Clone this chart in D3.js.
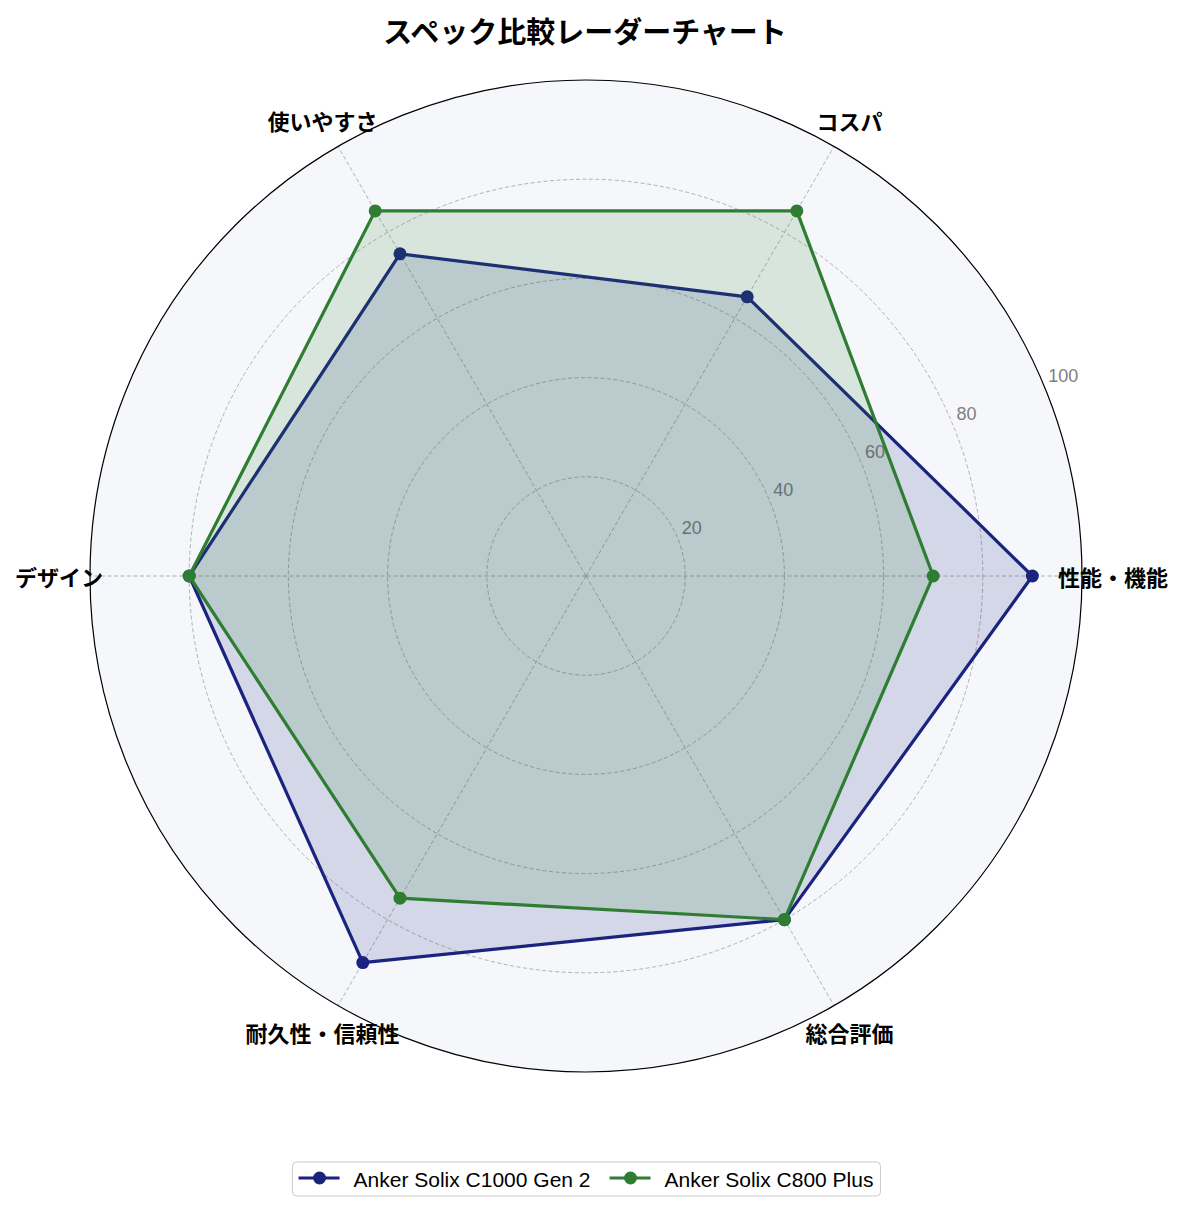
<!DOCTYPE html>
<html>
<head>
<meta charset="utf-8">
<script src="https://cdn.jsdelivr.net/npm/d3@7"></script>
<style>
  body { margin: 0; background: #fff; }
  svg { display: block; font-family: "Noto Sans CJK JP", "Noto Sans", sans-serif; }
</style>
</head>
<body>
<div class="root"></div>
<script>
const categories = ["性能・機能", "コスパ", "使いやすさ", "デザイン", "耐久性・信頼性", "総合評価"];
const c1000Gen2 = [90, 65, 75, 80, 90, 80];
const c800Plus = [70, 85, 85, 80, 75, 80];
const rTicks = [20, 40, 60, 80, 100];
const seriesNames = ["Anker Solix C1000 Gen 2", "Anker Solix C800 Plus"];
const seriesColors = ["#1a237e", "#2e7d32"];

const width = 1185;
const height = 1211;
const cx = 586;
const cy = 576;
const radius = 496;

const svg = d3
  .select(".root")
  .append("svg")
  .attr("width", width)
  .attr("height", height);

// d3 radial angles: 0 at top, clockwise. first category sits on the right.
const angle = d3
  .scaleLinear()
  .domain([0, categories.length])
  .range([Math.PI / 2, Math.PI / 2 - 2 * Math.PI]);
const r = d3.scaleLinear().domain([0, 100]).range([0, radius]);

const px = (a, rr) => rr * Math.sin(a);
const py = (a, rr) => -rr * Math.cos(a);

const g = svg.append("g").attr("transform", `translate(${cx},${cy})`);

// background
g.append("circle").attr("r", radius).attr("fill", "#f5f7fb");

// grid rings
g.selectAll(".ring")
  .data(rTicks.slice(0, -1))
  .join("circle")
  .attr("r", (d) => r(d))
  .attr("fill", "none")
  .attr("stroke", "#a0a0a0")
  .attr("stroke-width", 0.8)
  .attr("stroke-dasharray", "4,2.5");

// spokes
g.selectAll(".spoke")
  .data(categories)
  .join("line")
  .attr("x1", 0)
  .attr("y1", 0)
  .attr("x2", (d, i) => px(angle(i), radius))
  .attr("y2", (d, i) => py(angle(i), radius))
  .attr("stroke", "#a0a0a0")
  .attr("stroke-width", 0.8)
  .attr("stroke-dasharray", "4,2.5");

// radial tick labels at 22.5 degrees
const labelAngle = Math.PI / 2 - Math.PI / 8;
g.selectAll(".rtick")
  .data(rTicks)
  .join("text")
  .attr("x", (d) => px(labelAngle, r(d)) + 4)
  .attr("y", (d) => py(labelAngle, r(d)) - 4)
  .attr("fill", "#808080")
  .attr("font-family", "'Liberation Sans', Arial, sans-serif")
  .attr("font-size", 18)
  .text((d) => d);

// series
const radialLine = d3
  .lineRadial()
  .angle((d, i) => angle(i))
  .radius((d) => r(d))
  .curve(d3.curveLinearClosed);

[c1000Gen2, c800Plus].forEach((values, k) => {
  const color = seriesColors[k];
  g.append("path")
    .attr("d", radialLine(values))
    .attr("fill", color)
    .attr("fill-opacity", 0.15)
    .attr("stroke", "none");
  g.append("path")
    .attr("d", radialLine(values))
    .attr("fill", "none")
    .attr("stroke", color)
    .attr("stroke-width", 3.2)
    .attr("stroke-linejoin", "round");
  g.selectAll(".pt" + k)
    .data(values)
    .join("circle")
    .attr("cx", (d, i) => px(angle(i), r(d)))
    .attr("cy", (d, i) => py(angle(i), r(d)))
    .attr("r", 6.5)
    .attr("fill", color);
});

// outer spine
g.append("circle")
  .attr("r", radius)
  .attr("fill", "none")
  .attr("stroke", "#000")
  .attr("stroke-width", 1.2);

// category labels
g.selectAll(".cat")
  .data(categories)
  .join("text")
  .attr("x", (d, i) => px(angle(i), 527))
  .attr("y", (d, i) => py(angle(i), 527))
  .attr("text-anchor", "middle")
  .attr("dominant-baseline", "central")
  .attr("font-size", 22)
  .attr("font-weight", "bold")
  .attr("fill", "#000")
  .text((d) => d);

// title
svg.append("text")
  .attr("x", 585)
  .attr("y", 30)
  .attr("text-anchor", "middle")
  .attr("dominant-baseline", "central")
  .attr("font-size", 29)
  .attr("font-weight", "bold")
  .attr("fill", "#000")
  .text("スペック比較レーダーチャート");

// legend
const legend = svg.append("g");
const box = legend.append("rect")
  .attr("y", 1162)
  .attr("height", 34)
  .attr("rx", 4)
  .attr("fill", "#fff")
  .attr("stroke", "#cccccc")
  .attr("stroke-width", 1);

let x = 0;
const items = seriesNames.map((name, k) => {
  const item = legend.append("g").attr("transform", `translate(${x},0)`);
  item.append("line")
    .attr("x1", 0).attr("x2", 41)
    .attr("y1", 1178).attr("y2", 1178)
    .attr("stroke", seriesColors[k])
    .attr("stroke-width", 3.2);
  item.append("circle")
    .attr("cx", 21).attr("cy", 1178).attr("r", 6.5)
    .attr("fill", seriesColors[k]);
  const t = item.append("text")
    .attr("x", 55).attr("y", 1179)
    .attr("dominant-baseline", "central")
    .attr("font-family", "'Liberation Sans', Arial, sans-serif")
    .attr("font-size", 21)
    .attr("fill", "#000")
    .text(name);
  const w = 55 + t.node().getComputedTextLength();
  const start = x;
  x += w + 19;
  return { item, start, w };
});
const total = x - 19;
const left = cx - total / 2;
items.forEach((d) => d.item.attr("transform", `translate(${left + d.start},0)`));
box.attr("x", left - 6).attr("width", total + 13);
</script>
</body>
</html>
